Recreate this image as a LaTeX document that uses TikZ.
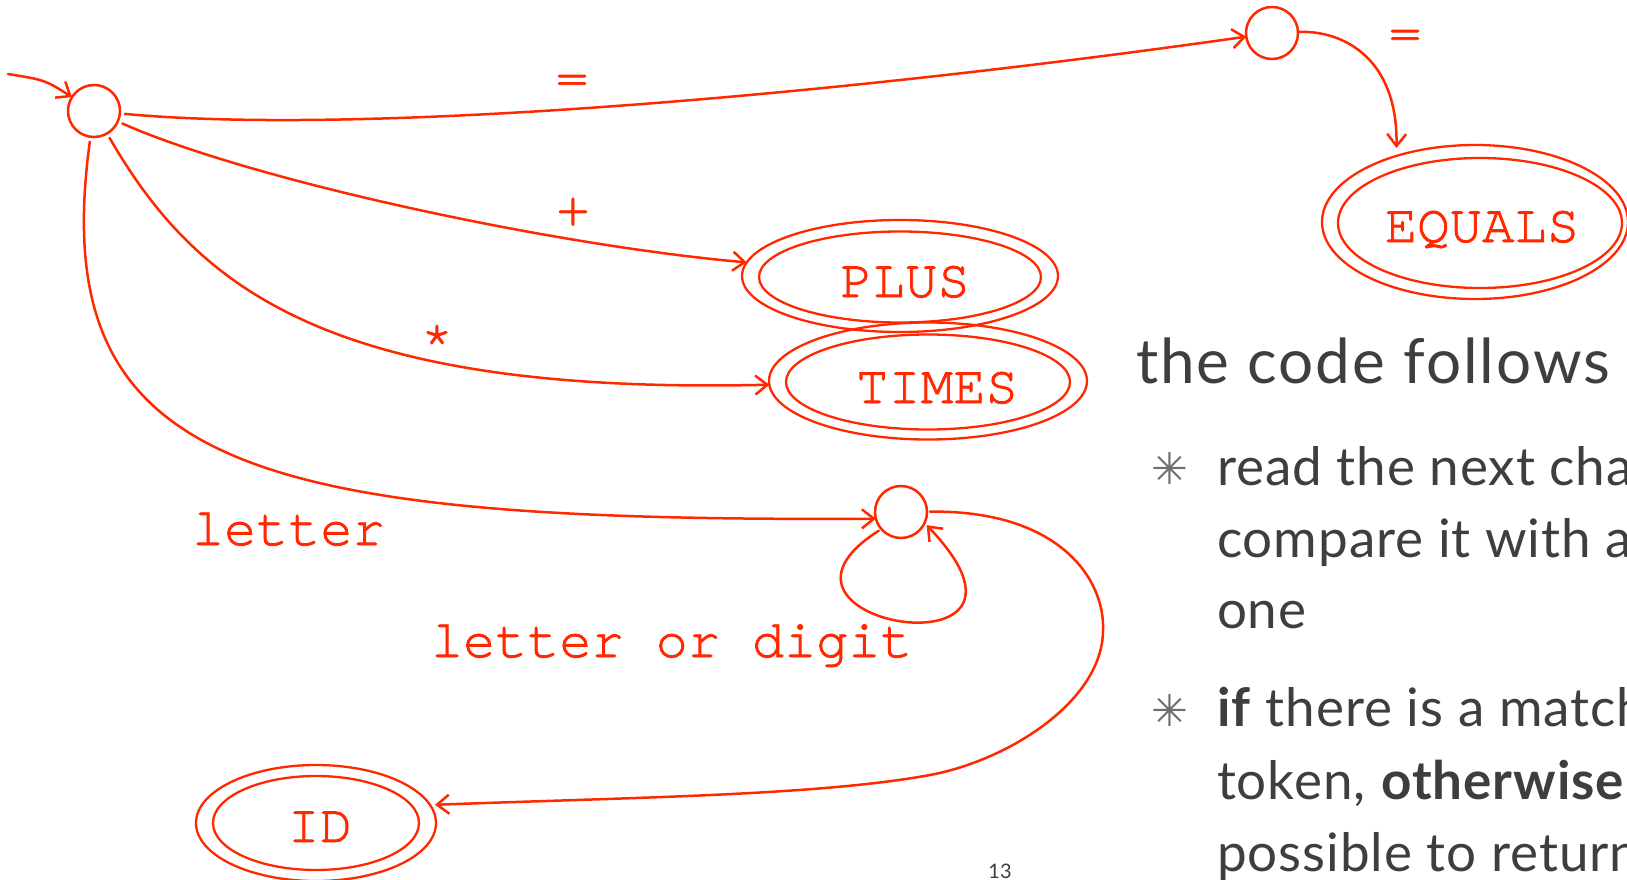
\documentclass[tikz,border=0pt]{standalone}
\usepackage{fontspec}
\setmainfont{Lato}
\newfontfamily\cour{texgyrecursor}[Extension=.otf,UprightFont=*-regular,BoldFont=*-bold,FakeBold=1.5]
\newfontfamily\symfont{DejaVu Sans}
\newfontfamily\headfont{Lato}[LetterSpace=3.3]
\newfontfamily\bodyfont{Lato}[LetterSpace=1.8]
\usetikzlibrary{shapes.geometric,arrows.meta}
\definecolor{fsmred}{RGB}{255,40,0}
\definecolor{slidegray}{RGB}{62,62,62}
\definecolor{bulletgray}{RGB}{110,110,110}

\begin{document}
\begin{tikzpicture}[x=1pt,y=-1pt,
  every node/.style={inner sep=0pt,outer sep=0pt},
  edge/.style={draw=fsmred,line width=2.5pt,line cap=round,
    -{Straight Barb[length=12pt,width=19pt]}},
  state/.style={circle,draw=fsmred,line width=2.5pt,minimum size=52pt},
  finalring/.style={ellipse,draw=fsmred,line width=2.3pt},
  tok/.style={text=fsmred,font=\cour\fontsize{54}{60}\selectfont},
  lbl/.style={text=fsmred,font=\cour\fontsize{53.5}{60}\selectfont},
  title/.style={text=slidegray,font=\headfont\fontsize{62}{70}\selectfont},
  bodytxt/.style={text=slidegray,font=\bodyfont\fontsize{53}{66}\selectfont},
  bul/.style={text=bulletgray,font=\symfont\fontsize{44}{48}\selectfont},
  pgnum/.style={text=slidegray,font=\fontsize{20}{24}\selectfont}]

\useasboundingbox (0,0) rectangle (1627,880);
\clip (0,0) rectangle (1627,880);

% states
\node[state] (s0) at (94,111) {};
\node[state] (s1) at (1272,33) {};
\node[state] (s2) at (901,512) {};

% accepting states: outer ring, inner ring, token name
\node[finalring,minimum width=306pt,minimum height=154pt] (equals) at (1475,222) {};
\node[finalring,minimum width=284pt,minimum height=130pt] (equalsin) at (1480,223) {};
\node[tok,anchor=base] (equalstxt) at (1482,242) {EQUALS};

\node[finalring,minimum width=316pt,minimum height=112pt] (plus) at (900,276) {};
\node[finalring,minimum width=282pt,minimum height=91pt] (plusin) at (900,277) {};
\node[tok,anchor=base] (plustxt) at (905,297) {PLUS};

\node[finalring,minimum width=318pt,minimum height=117pt] (times) at (928,381) {};
\node[finalring,minimum width=284pt,minimum height=95pt] (timesin) at (928,382) {};
\node[tok,anchor=base] (timestxt) at (937,403) {TIMES};

\node[finalring,minimum width=240pt,minimum height=116pt] (id) at (316,823) {};
\node[finalring,minimum width=206pt,minimum height=94pt] (idin) at (316,823) {};
\node[tok,anchor=base] (idtxt) at (320,842) {ID};

% transitions
\coordinate (entry) at (8,74);
\draw[edge] (entry) .. controls (45,80) .. (s0);
\draw[edge,shorten <=5pt] (s0) .. controls (350,135) and (800,100) .. (s1);
\draw[edge,shorten >=8pt] (s1) .. controls (1345,30) and (1398,60) .. (equals.140);
\draw[edge,shorten <=5pt] (s0) .. controls (250,180) and (550,245) .. (plus);
\draw[edge,shorten <=5pt] (s0) .. controls (197,289) and (330,395) .. (times);
\draw[edge,shorten <=5pt] (s0) .. controls (45,470) and (250,522) .. (s2.-165);
\draw[edge,shorten <=3pt,shorten >=3pt] (s2.-139) .. controls (730,625) and (1075,680) .. (s2.-25);
\coordinate (bendA) at (1103,630);
\coordinate (bendB) at (930,775);
\draw[edge,shorten <=3pt,shorten >=5pt] (s2) .. controls (1060,510) and (1105,580) .. (bendA)
  .. controls (1103,700) and (1010,760) .. (bendB)
  .. controls (820,795) and (650,797) .. (id.9);

% transition labels
\node[lbl,anchor=north] (lbleq) at (572,75) {=};
\node[lbl,anchor=north] (lblplus) at (573,198) {+};
\node[lbl,anchor=north] (lblstar) at (437,325) {*};
\node[lbl,anchor=north] (lbleqb) at (1405,30) {=};
\node[lbl,anchor=base west] (lblletter) at (192,545) {letter};
\node[lbl,anchor=base west] (lblloop) at (431,657) {letter or digit};

% slide text
\node[title,anchor=base west] (head) at (1136,383) {the code follows};
\node[bul] (b1) at (1170,468) {✳};
\node[bodytxt,anchor=base west] (l1) at (1217,485) {read the next cha};
\node[bodytxt,anchor=base west] (l2) at (1217,557) {compare it with a};
\node[bodytxt,anchor=base west] (l3) at (1217,628) {one};
\node[bul] (b2) at (1170,710) {✳};
\node[bodytxt,anchor=base west] (l4) at (1217,726) {\textbf{if} there is a match};
\node[bodytxt,anchor=base west] (l5) at (1217,799) {token, \textbf{otherwise}};
\node[bodytxt,anchor=base west] (l6) at (1217,871) {possible to return};
\node[pgnum,anchor=north] (pg) at (1000,864) {13};
\end{tikzpicture}
\end{document}
